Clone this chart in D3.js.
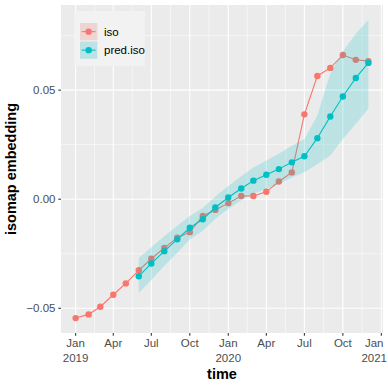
<!DOCTYPE html>
<html>
<head>
<meta charset="utf-8">
<script src="https://cdn.jsdelivr.net/npm/d3@7"></script>
<style>
  body { margin: 0; background: #fff; }
  svg { font-family: "Liberation Sans", Arial, sans-serif; }
</style>
</head>
<body>
<svg id="chart"></svg>
<script>
// monthly data points
const isoMonths = ["2019-01","2019-02","2019-03","2019-04","2019-05","2019-06","2019-07","2019-08",
    "2019-09","2019-10","2019-11","2019-12","2020-01","2020-02","2020-03","2020-04","2020-05",
    "2020-06","2020-07","2020-08","2020-09","2020-10","2020-11","2020-12"];
const isoValues = [-0.0545,-0.0528,-0.0493,-0.0438,-0.0386,-0.0326,-0.0273,-0.0223,
    -0.0177,-0.0151,-0.0077,-0.0049,-0.0018,0.0015,0.0015,0.0034,0.0081,
    0.0123,0.0389,0.0565,0.0602,0.0661,0.0639,0.0633];

const predMonths = ["2019-06","2019-07","2019-08","2019-09","2019-10","2019-11","2019-12",
    "2020-01","2020-02","2020-03","2020-04","2020-05","2020-06","2020-07","2020-08",
    "2020-09","2020-10","2020-11","2020-12"];
const predValues = [-0.0353,-0.0295,-0.0238,-0.0184,-0.0131,-0.0092,-0.0038,
    0.0008,0.0049,0.0085,0.0112,0.0138,0.0169,0.0197,0.0280,
    0.0379,0.0471,0.0556,0.0625];
const predLower = [-0.0430,-0.0370,-0.0305,-0.0245,-0.0185,-0.0145,-0.0090,
    -0.0045,-0.0005,0.0025,0.0048,0.0070,0.0100,0.0124,0.0161,
    0.0200,0.0276,0.0346,0.0415];
const predUpper = [-0.0270,-0.0220,-0.0170,-0.0122,-0.0077,-0.0040,0.0013,
    0.0060,0.0105,0.0145,0.0178,0.0208,0.0245,0.0276,0.0384,
    0.0576,0.0677,0.0760,0.0822];

// axis ticks
const xTicks = ["2019-01","2019-04","2019-07","2019-10","2020-01","2020-04","2020-07","2020-10","2021-01"];
const xTickLabels = [["Jan","2019"],["Apr"],["Jul"],["Oct"],["Jan","2020"],["Apr"],["Jul"],["Oct"],["Jan","2021"]];
const yTicks = [-0.05, 0, 0.05];
const yTickLabels = ["\u22120.05", "0.00", "0.05"];
const yMinor = [-0.075, -0.025, 0.025, 0.075];

const seriesNames = ["iso", "pred.iso"];
const colors = ["#F8766D", "#00BFC4"];

const parse = d3.timeParse("%Y-%m");
const iso = isoMonths.map((m, i) => ({ date: parse(m), value: isoValues[i] }));
const pred = predMonths.map((m, i) => ({ date: parse(m), value: predValues[i], lo: predLower[i], hi: predUpper[i] }));

const width = 388, height = 388;
const panel = { left: 61, right: 383, top: 5, bottom: 333 };

const svg = d3.select("#chart").attr("width", width).attr("height", height);

// scales with ggplot style 5% expansion
const allDates = iso.map(d => d.date).concat(pred.map(d => d.date));
const dExt = d3.extent(allDates);
const dPad = (dExt[1] - dExt[0]) * 0.05;
const xScale = d3.scaleTime()
    .domain([new Date(+dExt[0] - dPad), new Date(+dExt[1] + dPad)])
    .range([panel.left, panel.right]);

const allY = isoValues.concat(predLower, predUpper);
const yExt = d3.extent(allY);
const yPad = (yExt[1] - yExt[0]) * 0.05;
const yScale = d3.scaleLinear()
    .domain([yExt[0] - yPad, yExt[1] + yPad])
    .range([panel.bottom, panel.top]);

// panel background
svg.append("rect")
    .attr("x", panel.left).attr("y", panel.top)
    .attr("width", panel.right - panel.left).attr("height", panel.bottom - panel.top)
    .attr("fill", "#EBEBEB");

// grid
const xMajor = xTicks.map(parse);
const xMinor = d3.pairs(xMajor).map(p => new Date((+p[0] + +p[1]) / 2));
xMinor.push(new Date(+xMajor[0] - (xMajor[1] - xMajor[0]) / 2));

const grid = svg.append("g");
grid.selectAll(".ymin").data(yMinor.filter(v => yScale(v) > panel.top && yScale(v) < panel.bottom))
    .enter().append("line")
    .attr("x1", panel.left).attr("x2", panel.right)
    .attr("y1", d => yScale(d)).attr("y2", d => yScale(d))
    .attr("stroke", "#fff").attr("stroke-width", 0.53);
grid.selectAll(".xmin").data(xMinor.filter(d => xScale(d) > panel.left && xScale(d) < panel.right))
    .enter().append("line")
    .attr("y1", panel.top).attr("y2", panel.bottom)
    .attr("x1", d => xScale(d)).attr("x2", d => xScale(d))
    .attr("stroke", "#fff").attr("stroke-width", 0.53);
grid.selectAll(".ymaj").data(yTicks)
    .enter().append("line")
    .attr("x1", panel.left).attr("x2", panel.right)
    .attr("y1", d => yScale(d)).attr("y2", d => yScale(d))
    .attr("stroke", "#fff").attr("stroke-width", 1.07);
grid.selectAll(".xmaj").data(xMajor)
    .enter().append("line")
    .attr("y1", panel.top).attr("y2", panel.bottom)
    .attr("x1", d => xScale(d)).attr("x2", d => xScale(d))
    .attr("stroke", "#fff").attr("stroke-width", 1.07);

// iso line + points
const line = d3.line().x(d => xScale(d.date)).y(d => yScale(d.value));
svg.append("path").datum(iso)
    .attr("fill", "none").attr("stroke", colors[0]).attr("stroke-width", 1.07)
    .attr("d", line);
svg.selectAll(".isoPt").data(iso).enter().append("circle")
    .attr("cx", d => xScale(d.date)).attr("cy", d => yScale(d.value))
    .attr("r", 3.2).attr("fill", colors[0]);

// ribbon
const area = d3.area()
    .x(d => xScale(d.date))
    .y0(d => yScale(d.lo))
    .y1(d => yScale(d.hi));
svg.append("path").datum(pred)
    .attr("fill", colors[1]).attr("fill-opacity", 0.2)
    .attr("d", area);

// pred line + points
svg.append("path").datum(pred)
    .attr("fill", "none").attr("stroke", colors[1]).attr("stroke-width", 1.07)
    .attr("d", line);
svg.selectAll(".predPt").data(pred).enter().append("circle")
    .attr("cx", d => xScale(d.date)).attr("cy", d => yScale(d.value))
    .attr("r", 3.2).attr("fill", colors[1]);

// x axis
const xAxis = svg.append("g");
xMajor.forEach((d, i) => {
    const x = xScale(d);
    xAxis.append("line")
        .attr("x1", x).attr("x2", x).attr("y1", panel.bottom).attr("y2", panel.bottom + 2.7)
        .attr("stroke", "#333").attr("stroke-width", 1.07);
    const t = xAxis.append("text")
        .attr("text-anchor", "middle").attr("fill", "#4D4D4D").attr("font-size", "11.5px");
    xTickLabels[i].forEach((s, j) => {
        t.append("tspan").attr("x", x).attr("y", panel.bottom + 14 + j * 14.5).text(s);
    });
    // keep labels inside the picture
    const bb = t.node().getBBox();
    const over = bb.x + bb.width - (width - 1);
    if (over > 0) t.attr("transform", `translate(${-over}, 0)`);
});

// y axis
const yAxis = svg.append("g");
yTicks.forEach((v, i) => {
    const y = yScale(v);
    yAxis.append("line")
        .attr("x1", panel.left - 2.7).attr("x2", panel.left).attr("y1", y).attr("y2", y)
        .attr("stroke", "#333").attr("stroke-width", 1.07);
    yAxis.append("text")
        .attr("x", panel.left - 5.5).attr("y", y + 4)
        .attr("text-anchor", "end").attr("fill", "#4D4D4D").attr("font-size", "11.5px")
        .text(yTickLabels[i]);
});

// axis titles
svg.append("text")
    .attr("x", (panel.left + panel.right) / 2).attr("y", 379)
    .attr("text-anchor", "middle").attr("font-weight", "bold").attr("font-size", "14.5px")
    .text("time");
svg.append("text")
    .attr("transform", `translate(16, ${(panel.top + panel.bottom) / 2}) rotate(-90)`)
    .attr("text-anchor", "middle").attr("font-weight", "bold").attr("font-size", "14.5px")
    .text("isomap embedding");

// legend
const legend = svg.append("g");
legend.append("rect")
    .attr("x", 74).attr("y", 11).attr("width", 71).attr("height", 55)
    .attr("fill", "#F2F2F2");
seriesNames.forEach((name, i) => {
    const ky = 23 + i * 18.5;
    legend.append("rect")
        .attr("x", 80).attr("y", ky).attr("width", 17.3).attr("height", 17.3)
        .attr("fill", "#EBEBEB");
    legend.append("rect")
        .attr("x", 80).attr("y", ky).attr("width", 17.3).attr("height", 17.3)
        .attr("fill", colors[i]).attr("fill-opacity", 0.2);
    legend.append("line")
        .attr("x1", 81.7).attr("x2", 95.6).attr("y1", ky + 8.65).attr("y2", ky + 8.65)
        .attr("stroke", colors[i]).attr("stroke-width", 1.07);
    legend.append("circle")
        .attr("cx", 88.65).attr("cy", ky + 8.65).attr("r", 3.2).attr("fill", colors[i]);
    legend.append("text")
        .attr("x", 104).attr("y", ky + 12.6).attr("font-size", "11.5px").attr("fill", "#000")
        .text(name);
});
</script>
</body>
</html>
